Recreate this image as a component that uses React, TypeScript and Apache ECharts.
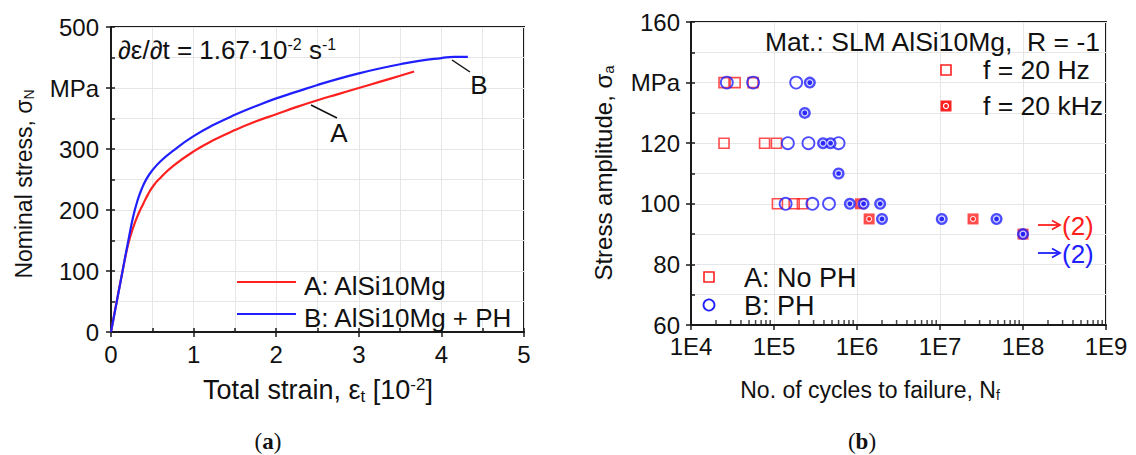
import React, { useEffect, useRef } from 'react';
import * as echarts from 'echarts';

// ---------- (a) tensile curves ----------
const strainA = [0, 0.14, 0.21, 0.27, 0.33, 0.39, 0.45, 0.52, 0.6, 0.75, 1.0, 1.25, 1.5, 1.75, 2.0, 2.25, 2.5, 2.75, 3.0, 3.25, 3.5, 3.67];
const stressA = [0, 100, 145, 172, 193, 210, 226, 241, 253, 272, 296, 315, 331, 345, 357, 369, 380, 390, 400, 410, 420, 427];
const strainB = [0, 0.14, 0.21, 0.27, 0.32, 0.37, 0.43, 0.5, 0.6, 0.75, 1.0, 1.25, 1.5, 1.75, 2.0, 2.25, 2.5, 2.75, 3.0, 3.25, 3.5, 3.75, 4.0, 4.15, 4.32];
const stressB = [0, 100, 150, 190, 215, 234, 251, 265, 280, 297, 321, 340, 356, 370, 383, 394, 405, 415, 424, 432, 439, 445, 449, 451, 451];
const strainTickLabels = ['0', '1', '2', '3', '4', '5'];
const stressTickLabels = ['0', '100', '200', '300', 'MPa', '500'];

// ---------- (b) S-N data ----------
const cyclesA20Hz = [2.5e4, 3.4e4, 5.6e4, 2.5e4, 7.7e4, 1.07e5, 1.1e5, 1.75e5, 2.2e5];
const ampA20Hz = [140, 140, 140, 120, 120, 120, 100, 100, 100];
const cyclesB20Hz = [2.7e4, 5.6e4, 1.85e5, 1.47e5, 2.6e5, 6.0e5, 1.38e5, 2.9e5, 4.6e5];
const ampB20Hz = [140, 140, 140, 120, 120, 120, 100, 100, 100];
const cyclesA20kHz = [1.1e6, 1.4e6, 2.5e7, 1e8];
const ampA20kHz = [100, 95, 95, 90];
const cyclesB20kHz = [2.7e5, 2.35e5, 3.9e5, 4.8e5, 6.0e5, 8.2e5, 1.2e6, 1.9e6, 2.0e6, 1.05e7, 4.8e7, 1e8];
const ampB20kHz = [140, 130, 120, 120, 110, 100, 100, 100, 95, 95, 95, 90];
const cycleTickLabels = ['1E4', '1E5', '1E6', '1E7', '1E8', '1E9'];
const ampTickLabels = ['60', '80', '100', '120', 'MPa', '160'];
const minorCycleTicks = [
  2e4, 3e4, 4e4, 5e4, 6e4, 7e4, 8e4, 9e4,
  2e5, 3e5, 4e5, 5e5, 6e5, 7e5, 8e5, 9e5,
  2e6, 3e6, 4e6, 5e6, 6e6, 7e6, 8e6, 9e6,
  2e7, 3e7, 4e7, 5e7, 6e7, 7e7, 8e7, 9e7,
  2e8, 3e8, 4e8, 5e8, 6e8, 7e8, 8e8, 9e8,
];

const FONT = 'Arial, "Liberation Sans", Helvetica, sans-serif';
const SERIF = '"Times New Roman", "Liberation Serif", serif';
const RED = '#ff2020';
const BLUE = '#2020ff';
const AX = '#1a1a1a';
const GRIDC = '#e6e6e6';
const FS = 24;

const zip = (xs: number[], ys: number[]) => xs.map((x, i) => [x, ys[i]]);

const mkRich = (size: number) => ({
  sup: { fontSize: Math.round(size * 0.62), fontFamily: FONT, padding: [0, 0, Math.round(size * 0.45), 0] },
  sub: { fontSize: Math.round(size * 0.62), fontFamily: FONT, padding: [Math.round(size * 0.45), 0, 0, 0] },
});

const txt = (x: number, y: number, text: string, size: number, extra: any = {}, fill = '#111') => ({
  type: 'text', z: 20, x, y, ...extra,
  style: { text, font: `${size}px ${FONT}`, fill, verticalAlign: 'middle', rich: mkRich(size), ...(extra.style || {}) },
});

const arrow = (y: number, color: string) => [
  { type: 'line', z: 20, shape: { x1: 1038, y1: y, x2: 1059, y2: y }, style: { stroke: color, lineWidth: 1.8 } },
  { type: 'polyline', z: 20, shape: { points: [[1052, y - 4.5], [1060, y], [1052, y + 4.5]] }, style: { stroke: color, lineWidth: 1.8, fill: 'none' } },
];

export default function App() {
  const ref = useRef<HTMLDivElement>(null);
  useEffect(() => {
    if (!ref.current) return;
    const chart = echarts.init(ref.current, undefined, { renderer: 'svg' });
    const labelStyle = { fontSize: FS, color: '#111', fontFamily: FONT };
    const option: any = {
      animation: false,
      backgroundColor: '#ffffff',
      grid: [
        { left: 111, top: 27, width: 413, height: 305, show: true, borderColor: AX, borderWidth: 2, backgroundColor: 'transparent' },
        { left: 691, top: 22, width: 415, height: 303, show: true, borderColor: AX, borderWidth: 2, backgroundColor: 'transparent' },
      ],
      xAxis: [
        {
          gridIndex: 0, type: 'value', min: 0, max: 5, interval: 1,
          axisLine: { lineStyle: { color: AX, width: 2 } },
          axisTick: { show: true, length: 5, lineStyle: { color: AX, width: 1.5 } },
          axisLabel: { ...labelStyle, margin: 10, formatter: (v: number) => strainTickLabels[Math.round(v)] ?? '' },
          splitLine: { show: true, lineStyle: { color: GRIDC, width: 1 } },
          minorTick: { show: false, splitNumber: 2 },
          minorSplitLine: { show: true, lineStyle: { color: GRIDC, width: 1 } },
        },
        {
          gridIndex: 0, type: 'value', min: 0, max: 5, interval: 0.5, position: 'bottom',
          axisLine: { show: false },
          axisTick: { show: true, inside: true, length: 4, lineStyle: { color: AX, width: 1.5 } },
          axisLabel: { show: false }, splitLine: { show: false },
        },
        {
          gridIndex: 1, type: 'log', logBase: 10, min: 1e4, max: 1e9,
          axisLine: { lineStyle: { color: AX, width: 2 } },
          axisTick: { show: true, length: 5, lineStyle: { color: AX, width: 1.5 } },
          axisLabel: { ...labelStyle, margin: 9, formatter: (v: number) => cycleTickLabels[Math.round(Math.log10(v)) - 4] ?? '' },
          splitLine: { show: true, lineStyle: { color: GRIDC, width: 1 } },
        },
      ],
      yAxis: [
        {
          gridIndex: 0, type: 'value', min: 0, max: 500, interval: 100,
          axisLine: { show: true, lineStyle: { color: AX, width: 2 } },
          axisTick: { show: true, length: 5, lineStyle: { color: AX, width: 1.5 } },
          axisLabel: { ...labelStyle, margin: 12, formatter: (v: number) => stressTickLabels[Math.round(v / 100)] ?? '' },
          splitLine: { show: true, lineStyle: { color: GRIDC, width: 1 } },
          minorTick: { show: false, splitNumber: 2 },
          minorSplitLine: { show: true, lineStyle: { color: GRIDC, width: 1 } },
        },
        {
          gridIndex: 0, type: 'value', min: 0, max: 500, interval: 50, position: 'left',
          axisLine: { show: false },
          axisTick: { show: true, inside: true, length: 4, lineStyle: { color: AX, width: 1.5 } },
          axisLabel: { show: false }, splitLine: { show: false },
        },
        {
          gridIndex: 1, type: 'value', min: 60, max: 160, interval: 20,
          axisLine: { show: true, lineStyle: { color: AX, width: 2 } },
          axisTick: { show: true, length: 5, lineStyle: { color: AX, width: 1.5 } },
          axisLabel: { ...labelStyle, margin: 11, formatter: (v: number) => ampTickLabels[Math.round((v - 60) / 20)] ?? '' },
          splitLine: { show: true, lineStyle: { color: GRIDC, width: 1 } },
          minorTick: { show: false, splitNumber: 2 },
          minorSplitLine: { show: true, lineStyle: { color: GRIDC, width: 1 } },
        },
        {
          gridIndex: 1, type: 'value', min: 60, max: 160, interval: 10, position: 'left',
          axisLine: { show: false },
          axisTick: { show: true, inside: true, length: 4, lineStyle: { color: AX, width: 1.5 } },
          axisLabel: { show: false }, splitLine: { show: false },
        },
      ],
      series: [
        {
          name: 'A: AlSi10Mg', type: 'line', xAxisIndex: 0, yAxisIndex: 0,
          data: zip(strainA, stressA), symbol: 'none', smooth: 0.5,
          lineStyle: { color: RED, width: 2.2 }, z: 3,
        },
        {
          name: 'B: AlSi10Mg + PH', type: 'line', xAxisIndex: 0, yAxisIndex: 0,
          data: zip(strainB, stressB), symbol: 'none', smooth: 0.5,
          lineStyle: { color: BLUE, width: 2.2 }, z: 3,
        },
        {
          name: 'A 20 Hz', type: 'scatter', xAxisIndex: 2, yAxisIndex: 2,
          data: zip(cyclesA20Hz, ampA20Hz), symbol: 'rect', symbolSize: 10,
          itemStyle: { color: 'rgba(0,0,0,0)', borderColor: RED, borderWidth: 1.6 }, z: 3,
        },
        {
          name: 'B 20 Hz', type: 'scatter', xAxisIndex: 2, yAxisIndex: 2,
          data: zip(cyclesB20Hz, ampB20Hz), symbol: 'circle', symbolSize: 12,
          itemStyle: { color: 'rgba(0,0,0,0)', borderColor: BLUE, borderWidth: 1.8 }, z: 4,
        },
        {
          name: 'A 20 kHz', type: 'scatter', xAxisIndex: 2, yAxisIndex: 2,
          data: zip(cyclesA20kHz, ampA20kHz), symbol: 'rect', symbolSize: 11,
          itemStyle: { color: RED }, z: 5,
        },
        {
          name: 'A 20 kHz dot', type: 'scatter', xAxisIndex: 2, yAxisIndex: 2,
          data: zip(cyclesA20kHz, ampA20kHz), symbol: 'circle', symbolSize: 5,
          itemStyle: { color: RED, borderColor: '#fff', borderWidth: 1.2 }, z: 6, silent: true,
        },
        {
          name: 'B 20 kHz', type: 'scatter', xAxisIndex: 2, yAxisIndex: 2,
          data: zip(cyclesB20kHz, ampB20kHz), symbol: 'circle', symbolSize: 12,
          itemStyle: { color: BLUE }, z: 7,
        },
        {
          name: 'B 20 kHz dot', type: 'scatter', xAxisIndex: 2, yAxisIndex: 2,
          data: zip(cyclesB20kHz, ampB20kHz), symbol: 'circle', symbolSize: 6,
          itemStyle: { color: BLUE, borderColor: '#fff', borderWidth: 1.3 }, z: 8, silent: true,
        },
        {
          name: 'minor ticks', type: 'scatter', xAxisIndex: 2, yAxisIndex: 2,
          data: minorCycleTicks.map((v) => [v, 60]), symbol: 'rect', symbolSize: [1.5, 5], symbolOffset: [0, -2.5],
          itemStyle: { color: AX }, clip: false, silent: true, z: 9,
        },
      ],
      graphic: [
        // (a) annotations
        txt(118, 50, '∂ε/∂t = 1.67·10{sup|-2} s{sup|-1}', 26),
        { type: 'line', z: 20, shape: { x1: 311, y1: 105, x2: 337, y2: 118 }, style: { stroke: '#111', lineWidth: 1.5 } },
        txt(339, 133, 'A', 26, { style: { align: 'center' } }),
        { type: 'line', z: 20, shape: { x1: 452, y1: 60, x2: 470, y2: 72 }, style: { stroke: '#111', lineWidth: 1.5 } },
        txt(479, 85, 'B', 26, { style: { align: 'center' } }),
        // (a) legend
        { type: 'line', z: 20, shape: { x1: 237, y1: 282, x2: 296, y2: 282 }, style: { stroke: RED, lineWidth: 2.2 } },
        txt(304, 286, 'A: AlSi10Mg', 26),
        { type: 'line', z: 20, shape: { x1: 237, y1: 314, x2: 296, y2: 314 }, style: { stroke: BLUE, lineWidth: 2.2 } },
        txt(304, 318, 'B: AlSi10Mg + PH', 26),
        // (a) axis titles
        txt(318, 390, 'Total strain, ε{sub|t} [10{sup|-2}]', 27, { style: { align: 'center' } }),
        txt(24, 184, 'Nominal stress, σ{sub|N}', 23, { rotation: Math.PI / 2, style: { align: 'center' } }),
        { type: 'text', z: 20, x: 268, y: 441, style: { text: '({b|a})', font: `23px ${SERIF}`, fill: '#111', align: 'center', verticalAlign: 'middle', rich: { b: { fontWeight: 'bold', fontSize: 23, fontFamily: SERIF } } } },
        // (b) annotations
        txt(1100, 42, 'Mat.: SLM AlSi10Mg,  R = -1', 26.5, { style: { align: 'right' } }),
        { type: 'rect', z: 20, shape: { x: 941, y: 65, width: 10, height: 10 }, style: { fill: 'none', stroke: RED, lineWidth: 1.6 } },
        txt(983, 70, 'f = 20 Hz', 26.5),
        { type: 'rect', z: 20, shape: { x: 940.5, y: 100.5, width: 11, height: 11 }, style: { fill: RED } },
        { type: 'circle', z: 21, shape: { cx: 946, cy: 106, r: 2.5 }, style: { fill: RED, stroke: '#fff', lineWidth: 1.2 } },
        txt(983, 106, 'f = 20 kHz', 26.5),
        { type: 'rect', z: 20, shape: { x: 704, y: 272, width: 10, height: 10 }, style: { fill: 'none', stroke: RED, lineWidth: 1.6 } },
        txt(744, 278, 'A: No PH', 27),
        { type: 'circle', z: 20, shape: { cx: 709, cy: 305, r: 5.5 }, style: { fill: 'none', stroke: BLUE, lineWidth: 1.8 } },
        txt(744, 306, 'B: PH', 27),
        ...arrow(225, RED),
        txt(1062, 226, '(2)', 26, {}, RED),
        ...arrow(253, BLUE),
        txt(1062, 254, '(2)', 26, {}, BLUE),
        // (b) axis titles
        txt(870, 390, 'No. of cycles to failure, N{sub|f}', 23, { style: { align: 'center' } }),
        txt(603, 173, 'Stress amplitude, σ{sub|a}', 24, { rotation: Math.PI / 2, style: { align: 'center' } }),
        { type: 'text', z: 20, x: 862, y: 441, style: { text: '({b|b})', font: `23px ${SERIF}`, fill: '#111', align: 'center', verticalAlign: 'middle', rich: { b: { fontWeight: 'bold', fontSize: 23, fontFamily: SERIF } } } },
      ],
    };
    chart.setOption(option);
    return () => chart.dispose();
  }, []);
  return <div ref={ref} style={{ position: 'fixed', left: 0, top: 0, width: 1136, height: 455, background: '#fff' }} />;
}
